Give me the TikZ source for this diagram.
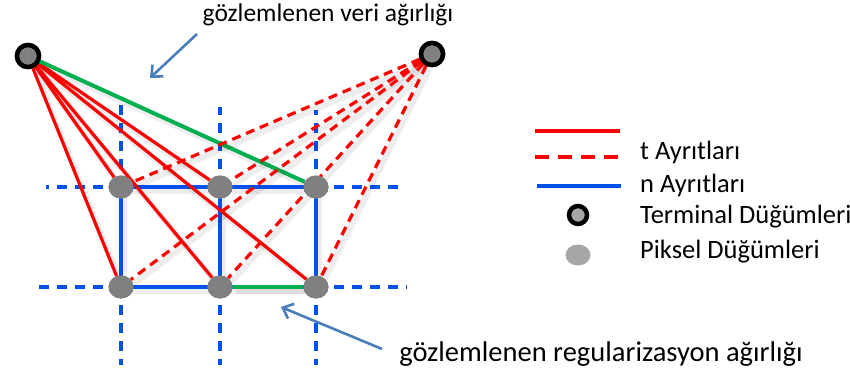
\documentclass[tikz,border=0pt]{standalone}
\usepackage{fontspec}
\setmainfont{Carlito}
\usetikzlibrary{shapes.geometric,arrows.meta}
\definecolor{tred}{RGB}{255,0,0}
\definecolor{nblue}{RGB}{0,82,235}
\definecolor{ggreen}{RGB}{0,176,80}
\definecolor{pgray}{RGB}{128,128,128}
\definecolor{lgray}{RGB}{166,166,166}
\definecolor{ablue}{RGB}{74,126,187}
\tikzset{
  shd/.style={preaction={draw=black,draw opacity=0.07,line width=6pt,transform canvas={shift={(3pt,-4pt)}}}},
  pix/.style={ellipse,fill=pgray,minimum width=25pt,minimum height=23pt,inner sep=0pt},
  term/.style={circle,fill=pgray,draw=black,line width=4.5pt,minimum size=22pt,inner sep=0pt},
  tedge/.style={tred,line width=3.2pt},
  tdash/.style={tred,line width=3.2pt,dash pattern=on 9pt off 6pt},
  nedge/.style={nblue,line width=3.2pt},
  ndash/.style={nblue,line width=3.2pt,dash pattern=on 10pt off 8pt},
  gedge/.style={ggreen,line width=4pt},
  callout/.style={ablue,line width=2.6pt,-{Straight Barb[length=9pt,width=16pt,line width=2.6pt]}},
  lbl/.style={font=\fontsize{25.5}{30}\selectfont,inner sep=0pt},
  leglbl/.style={font=\fontsize{26.5}{30}\selectfont,inner sep=0pt,anchor=west},
  biglbl/.style={font=\fontsize{28.5}{32}\selectfont,inner sep=0pt},
}
\begin{document}
\begin{tikzpicture}[x=1pt,y=-1pt]
\useasboundingbox (0,0) rectangle (850,374);
% coordinates
\coordinate (tl) at (121,187);
\coordinate (tm) at (220,187);
\coordinate (tr) at (316,187);
\coordinate (bl) at (121,287);
\coordinate (bm) at (220,287);
\coordinate (br) at (316,287);
\coordinate (h1a) at (46,187);
\coordinate (h1b) at (405,187);
\coordinate (h2a) at (38,287);
\coordinate (h2b) at (407,287);
\coordinate (v1a) at (121,105);
\coordinate (v2a) at (220,107);
\coordinate (v3a) at (316,110);
\coordinate (v1b) at (121,365);
\coordinate (v2b) at (220,365);
\coordinate (v3b) at (316,365);
% blue grid
\draw[nedge,shd] (tl) -- (tr);
\draw[nedge,shd] (bl) -- (br);
\draw[nedge,shd] (tl) -- (bl);
\draw[nedge,shd] (tm) -- (bm);
\draw[nedge,shd] (tr) -- (br);
\draw[ndash] (tl) -- (h1a);
\draw[ndash] (tr) -- (h1b);
\draw[ndash] (bl) -- (h2a);
\draw[ndash] (br) -- (h2b);
\draw[ndash] (tl) -- (v1a);
\draw[ndash] (tm) -- (v2a);
\draw[ndash] (tr) -- (v3a);
\draw[ndash] (bl) -- (v1b);
\draw[ndash] (bm) -- (v2b);
\draw[ndash] (br) -- (v3b);
% terminals
\node[term] (S) at (28,56) {};
\node[term] (T) at (432,54) {};
% pixel nodes
\node[pix] (p1) at (tl) {};
\node[pix] (p2) at (tm) {};
\node[pix] (p3) at (tr) {};
\node[pix] (p4) at (bl) {};
\node[pix] (p5) at (bm) {};
\node[pix] (p6) at (br) {};
% t-links
\draw[tedge,shd] (S) -- (p1);
\draw[tedge,shd] (S) -- (p4);
\draw[tedge,shd] (S) -- (p2);
\draw[tedge,shd] (S) -- (p5);
\draw[tedge,shd] (S) -- (p6);
\draw[gedge,shd] (S) -- (p3);
\draw[tdash,shd] (T) -- (p1);
\draw[tdash,shd] (T) -- (p2);
\draw[tdash,shd] (T) -- (p4);
\draw[tdash,shd] (T) -- (p5);
\draw[tdash,shd] (T) -- (p6);
\draw[gedge,shd] (p5) -- (p6);
% redraw nodes on top
\node[pix] at (tl) {};
\node[pix] at (tm) {};
\node[pix] at (tr) {};
\node[pix] at (bl) {};
\node[pix] at (bm) {};
\node[pix] at (br) {};
\node[term] at (28,56) {};
\node[term] at (432,54) {};
% labels and callouts
\node[lbl] (topl) at (328,15) {gözlemlenen veri ağırlığı};
\coordinate (a1s) at (197,34);
\coordinate (a1e) at (150,78);
\draw[callout] (a1s) -- (a1e);
\node[biglbl] (botl) at (601,354) {gözlemlenen regularizasyon ağırlığı};
\coordinate (a2s) at (382,349);
\coordinate (a2e) at (281,307);
\draw[callout] (a2s) -- (a2e);
% legend
\coordinate (l1a) at (535,131); \coordinate (l1b) at (620,131);
\coordinate (l2a) at (535,157); \coordinate (l2b) at (620,157);
\coordinate (l3a) at (537,186); \coordinate (l3b) at (621,186);
\draw[tedge] (l1a) -- (l1b);
\draw[tdash,dash pattern=on 14pt off 9pt] (l2a) -- (l2b);
\draw[nedge] (l3a) -- (l3b);
\node[term,fill=lgray,minimum size=18pt] (lt) at (578,215) {};
\node[pix,fill=lgray,minimum width=25pt,minimum height=21pt] (lp) at (578,255) {};
\node[leglbl] (t1) at (640,152) {t Ayrıtları};
\node[leglbl] (t2) at (640,185) {n Ayrıtları};
\node[leglbl] (t3) at (640,217) {Terminal Düğümleri};
\node[leglbl] (t4) at (640,252) {Piksel Düğümleri};
\end{tikzpicture}
\end{document}
